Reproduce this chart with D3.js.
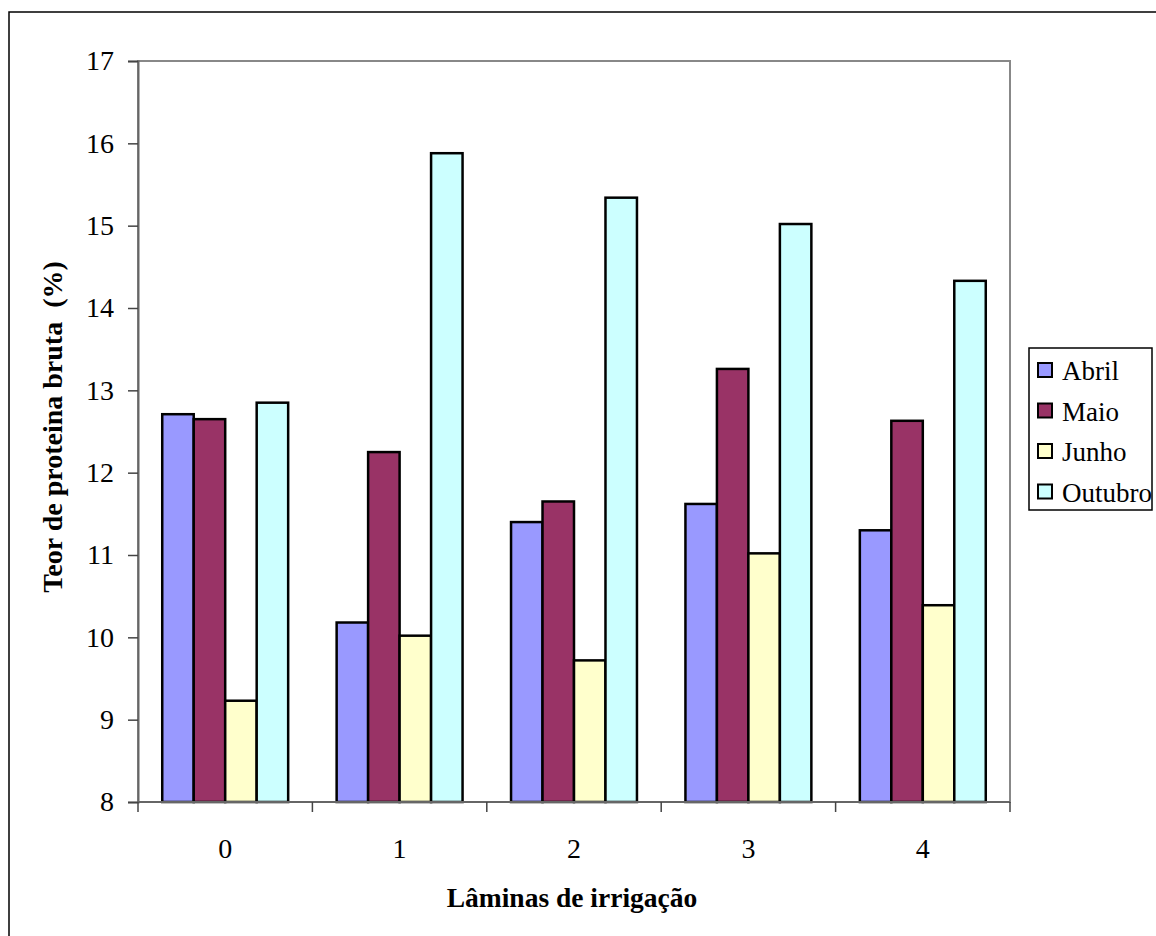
<!DOCTYPE html>
<html><head><meta charset="utf-8">
<script src="https://cdn.jsdelivr.net/npm/d3@7"></script>
<style>
html,body{margin:0;padding:0;background:#fff;}
</style></head>
<body>
<svg id="chart" width="1156" height="936" font-family="Liberation Serif"></svg>
<script>
const categories = ["0", "1", "2", "3", "4"];
const seriesNames = ["Abril", "Maio", "Junho", "Outubro"];
const abril   = [12.71, 10.18, 11.40, 11.62, 11.30];
const maio    = [12.65, 12.25, 11.65, 13.26, 12.63];
const junho   = [9.23, 10.02, 9.72, 11.02, 10.39];
const outubro = [12.85, 15.88, 15.34, 15.02, 14.33];
const yTicks  = [8, 9, 10, 11, 12, 13, 14, 15, 16, 17];
const colors  = ["#9999FF", "#993366", "#FFFFCC", "#CCFFFF"];
const seriesValues = [abril, maio, junho, outubro];
const FONT = "Liberation Serif";

const svg = d3.select("#chart");
const plot = {left:138, right:1010, top:61, bottom:802};

svg.append("rect").attr("x",9).attr("y",12).attr("width",1170).attr("height",950)
  .attr("fill","#fff").attr("stroke","#000").attr("stroke-width",1.5);

const x0 = d3.scaleBand().domain(categories).range([plot.left, plot.right]).padding(0);
const x1 = d3.scaleBand().domain(seriesNames).range([0, x0.bandwidth()]).paddingInner(0).paddingOuter(0.77);
const y = d3.scaleLinear().domain([8,17]).range([plot.bottom, plot.top]);

svg.append("rect").attr("x",plot.left).attr("y",plot.top)
  .attr("width",plot.right-plot.left).attr("height",plot.bottom-plot.top)
  .attr("fill","#fff").attr("stroke","#888").attr("stroke-width",2);

const groups = svg.append("g").selectAll("g").data(categories).join("g")
  .attr("transform", d => `translate(${x0(d)},0)`);
groups.selectAll("rect").data((c,i) => seriesNames.map((s,j) => ({s, v: seriesValues[j][i], j})))
  .join("rect")
  .attr("x", d => x1(d.s))
  .attr("width", x1.bandwidth())
  .attr("y", d => y(d.v))
  .attr("height", d => y(8) - y(d.v))
  .attr("fill", d => colors[d.j])
  .attr("stroke","#000").attr("stroke-width",2.5);

const yAxis = svg.append("g").attr("transform",`translate(${plot.left},0)`)
  .call(d3.axisLeft(y).tickValues(yTicks).tickSize(10).tickPadding(14).tickFormat(d3.format("d")));
yAxis.attr("font-family", FONT).attr("font-size", 28);
yAxis.select(".domain").attr("stroke","#666").attr("stroke-width",2);
yAxis.selectAll(".tick line").attr("stroke","#444").attr("stroke-width",1.5);
yAxis.selectAll("text").attr("fill","#000")
  .style("font-family",FONT).style("font-size","28px");

const boundaries = categories.map(c => x0(c)).concat([plot.right]);
const xg = svg.append("g");
xg.append("line").attr("x1",plot.left).attr("x2",plot.right).attr("y1",plot.bottom).attr("y2",plot.bottom)
  .attr("stroke","#666").attr("stroke-width",2);
xg.selectAll("line.tk").data(boundaries).join("line").attr("class","tk")
  .attr("x1",d=>d).attr("x2",d=>d).attr("y1",plot.bottom).attr("y2",plot.bottom+10)
  .attr("stroke","#444").attr("stroke-width",1.5);
xg.selectAll("text").data(categories).join("text")
  .attr("x", d => x0(d) + x0.bandwidth()/2).attr("y", 858)
  .attr("text-anchor","middle")
  .style("font-family",FONT).style("font-size","28px").text(d=>d);

svg.append("text").attr("x", 572).attr("y", 907)
  .attr("text-anchor","middle")
  .style("font-family",FONT).style("font-weight","bold").style("font-size","27.5px")
  .text("Lâminas de irrigação");
svg.append("text").attr("transform","translate(62,427) rotate(-90)")
  .attr("text-anchor","middle")
  .style("font-family",FONT).style("font-weight","bold").style("font-size","28px")
  .style("white-space","pre").text("Teor de proteina bruta  (%)");

const lg = svg.append("g");
lg.append("rect").attr("x",1029).attr("y",348).attr("width",123).attr("height",162)
  .attr("fill","#fff").attr("stroke","#000").attr("stroke-width",1.5);
const items = lg.selectAll("g.item").data(seriesNames).join("g").attr("class","item")
  .attr("transform",(d,i)=>`translate(1038,${370 + i*40.5})`);
items.append("rect").attr("x",0).attr("y",-7).attr("width",14).attr("height",14)
  .attr("fill",(d,i)=>colors[i]).attr("stroke","#000").attr("stroke-width",2);
items.append("text").attr("x",24).attr("y",10)
  .style("font-family",FONT).style("font-size","27px").text(d=>d);
</script>
</body></html>
